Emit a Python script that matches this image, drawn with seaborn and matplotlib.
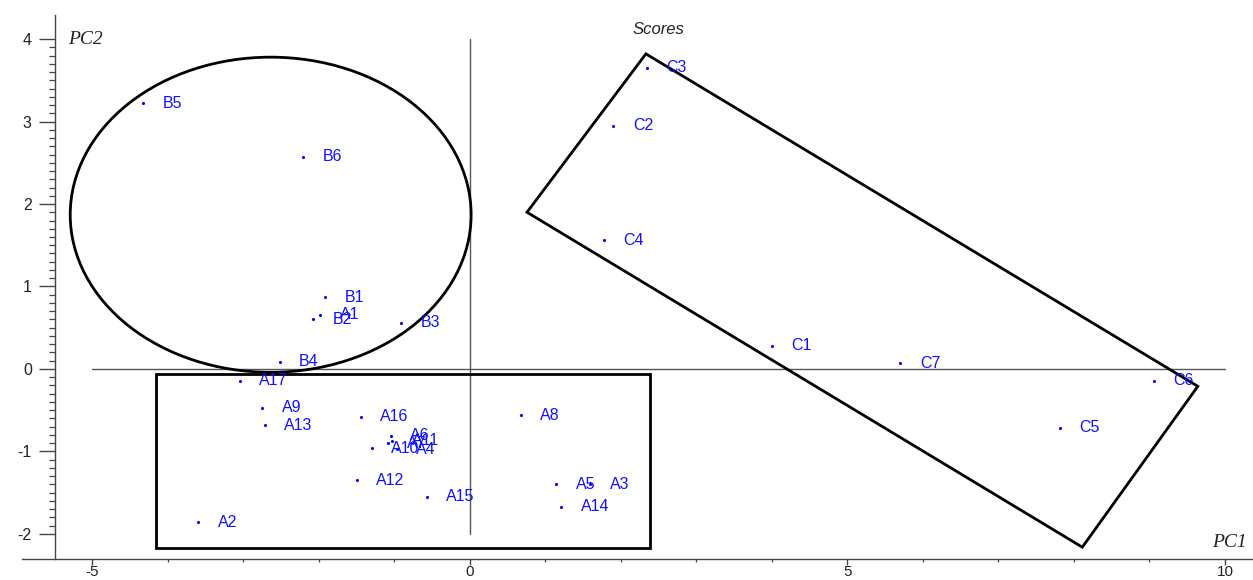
import numpy as np
import pandas as pd
import matplotlib
matplotlib.use("Agg")
import matplotlib.pyplot as plt
from matplotlib.patches import Ellipse, Rectangle, Polygon
from matplotlib.ticker import FixedLocator
import seaborn as sns

# ---- data ----
labels = ["A1", "A2", "A3", "A4", "A5", "A6", "A7", "A8", "A9", "A10",
          "A11", "A12", "A13", "A14", "A15", "A16", "A17",
          "B1", "B2", "B3", "B4", "B5", "B6",
          "C1", "C2", "C3", "C4", "C5", "C6", "C7"]
pc1 = [-1.98, -3.60, 1.59, -0.97, 1.14, -1.05, -1.09, 0.67, -2.75, -1.30,
       -1.03, -1.50, -2.72, 1.21, -0.57, -1.45, -3.05,
       -1.92, -2.08, -0.91, -2.52, -4.33, -2.21,
       4.00, 1.90, 2.34, 1.77, 7.81, 9.06, 5.70]
pc2 = [0.66, -1.86, -1.40, -0.97, -1.40, -0.81, -0.90, -0.56, -0.47, -0.96,
       -0.87, -1.35, -0.68, -1.67, -1.55, -0.58, -0.145,
       0.87, 0.60, 0.56, 0.09, 3.22, 2.57,
       0.28, 2.95, 3.65, 1.56, -0.71, -0.145, 0.07]
x_major = [-5, 0, 5, 10]
y_major = [-2, -1, 0, 1, 2, 3, 4]

# group outlines
ellipse_center = (-2.64, 1.87)
ellipse_size = (5.31, 3.82)
rect_corner = (-4.16, -2.17)
rect_size = (6.54, 2.11)
rot_rect = [(0.755, 1.90), (2.33, 3.82), (9.64, -0.21), (8.11, -2.16)]

df = pd.DataFrame({"PC1": pc1, "PC2": pc2, "label": labels})

sns.set_theme(style="white")
plt.rcParams["font.family"] = ["Liberation Sans", "DejaVu Sans"]
plt.rcParams["axes.unicode_minus"] = False

fig = plt.figure(figsize=(12.53, 5.80), dpi=100)
ax = fig.add_axes([0, 0, 1, 1])
ax.set_xlim(-6.225, 10.371)
ax.set_ylim(-2.558, 4.473)
ax.patch.set_alpha(0)

sns.scatterplot(data=df, x="PC1", y="PC2", ax=ax, color="#0000ff",
                s=5, linewidth=0, legend=False, zorder=3)
for lab, xv, yv in zip(labels, pc1, pc2):
    ax.annotate(lab, (xv, yv), xytext=(14, 0), textcoords="offset points",
                ha="left", va="center", color="#1010ff", fontsize=11.5,
                zorder=4)

# zero lines
ax.plot([x_major[0], x_major[-1]], [0, 0], color="#555555", lw=1.0, zorder=1)
ax.plot([0, 0], [y_major[0], y_major[-1]], color="#555555", lw=1.0, zorder=1)

# group shapes
ax.add_patch(Ellipse(ellipse_center, ellipse_size[0], ellipse_size[1],
                     fill=False, ec="black", lw=2.0, zorder=2))
ax.add_patch(Rectangle(rect_corner, rect_size[0], rect_size[1],
                       fill=False, ec="black", lw=2.0, zorder=2))
ax.add_patch(Polygon(rot_rect, closed=True, fill=False, ec="black",
                     lw=2.0, zorder=2))

# axes
for s in ["top", "right"]:
    ax.spines[s].set_visible(False)
ax.spines["left"].set_position(("data", -5.5))
ax.spines["bottom"].set_position(("data", -2.30))
ax.spines["left"].set_bounds(-2.30, 4.29)
ax.spines["bottom"].set_bounds(-5.93, 10.37)
for s in ["left", "bottom"]:
    ax.spines[s].set_color("#444444")
    ax.spines[s].set_linewidth(1.0)
    ax.spines[s].set_visible(True)

ax.xaxis.set_major_locator(FixedLocator(x_major))
ax.yaxis.set_major_locator(FixedLocator(y_major))
ax.xaxis.set_minor_locator(FixedLocator(np.arange(-5, 11, 1)))
ax.yaxis.set_minor_locator(FixedLocator(np.round(np.arange(-2, 4.001, 0.1), 2)))
ax.tick_params(axis="y", which="major", direction="out", length=11.5,
               width=1.0, color="#444444", pad=5, labelsize=11.5,
               labelcolor="#222222", left=True)
ax.tick_params(axis="y", which="minor", direction="out", length=4.3,
               width=0.9, color="#444444", left=True)
ax.tick_params(axis="x", which="major", direction="out", length=4.3,
               width=1.0, color="#444444", pad=0, labelsize=11,
               labelcolor="#222222", bottom=True)
ax.tick_params(axis="x", which="minor", direction="out", length=2.2,
               width=0.9, color="#444444", bottom=True)
ax.set_xlabel("")
ax.set_ylabel("")
ax.grid(False)

# axis titles
ax.text(-5.32, 4.0, "PC2", family=["Liberation Serif", "DejaVu Serif"],
        style="italic", fontsize=14, ha="left", va="center", color="#222222")
ax.text(10.29, -2.10, "PC1", family=["Liberation Serif", "DejaVu Serif"],
        style="italic", fontsize=14, ha="right", va="center", color="#222222")
ax.text(2.50, 4.12, "Scores", style="italic", fontsize=12,
        ha="center", va="center", color="#222222")

fig.savefig("out.png", dpi=100)
